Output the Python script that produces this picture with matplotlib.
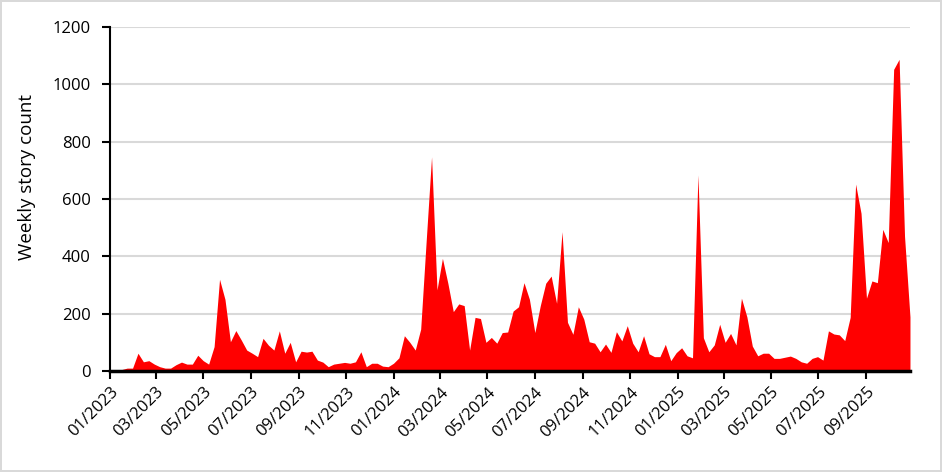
import numpy as np
import pandas as pd
import matplotlib
matplotlib.use('Agg')
import matplotlib.pyplot as plt
import matplotlib.dates as mdates

plt.rcParams['font.family'] = ['Open Sans', 'DejaVu Sans']

# weekly story counts, starting Monday 2023-01-02
counts = [0, 1, 5, 10, 10, 62, 32, 36, 24, 15,
          10, 10, 22, 31, 24, 24, 55, 36, 24, 85,
          320, 250, 102, 141, 108, 73, 62, 50, 114, 90,
          73, 140, 62, 100, 32, 69, 66, 69, 38, 31,
          15, 24, 27, 30, 27, 32, 67, 15, 27, 27,
          17, 15, 27, 46, 123, 100, 73, 146, 450, 747,
          283, 393, 306, 207, 234, 228, 73, 187, 183, 100,
          117, 97, 134, 136, 209, 224, 308, 250, 134, 228,
          306, 331, 236, 486, 170, 128, 224, 181, 102, 97,
          67, 94, 65, 137, 105, 158, 97, 67, 123, 60,
          50, 50, 93, 36, 64, 81, 53, 46, 684, 116,
          67, 91, 163, 100, 131, 91, 254, 189, 87, 53,
          62, 62, 44, 44, 48, 52, 44, 32, 27, 44,
          50, 38, 140, 129, 126, 106, 187, 652, 550, 254,
          314, 308, 494, 448, 1052, 1087, 470, 189]
weeks = pd.date_range('2023-01-02', periods=len(counts), freq='7D')

y_ticks = [0, 200, 400, 600, 800, 1000, 1200]

fig = plt.figure(figsize=(9.42, 4.72), dpi=100, edgecolor='#d9d9d9', linewidth=1.5)
ax = fig.add_axes([0.1168, 0.214, 0.8492, 0.729])

ax.fill_between(weeks, 0, counts, color='#ff0000', linewidth=0, zorder=3)

ax.set_ylim(0, 1200)
ax.set_yticks(y_ticks)
ax.set_xlim(pd.Timestamp('2023-01-01'), weeks[-1])
ax.xaxis.set_major_locator(mdates.MonthLocator(bymonth=[1, 3, 5, 7, 9, 11]))
ax.xaxis.set_major_formatter(mdates.DateFormatter('%m/%Y'))

ax.grid(axis='y', color='#d9d9d9', linewidth=1.5, zorder=0)
ax.set_axisbelow(True)
for s in ['top', 'right']:
    ax.spines[s].set_visible(False)
ax.spines['left'].set_linewidth(1.5)
ax.spines['bottom'].set_linewidth(2.5)
ax.spines['bottom'].set_zorder(4)
ax.tick_params(axis='both', direction='out', length=6, width=1.5, labelsize=12, colors='black')
ax.tick_params(axis='y', pad=8)
plt.setp(ax.get_xticklabels(), rotation=45, ha='right', rotation_mode='anchor')

ax.set_ylabel('Weekly story count', fontsize=13.5)
ax.yaxis.set_label_coords(-0.093, 0.564)

fig.savefig('out.png', dpi=100, edgecolor=fig.get_edgecolor())
